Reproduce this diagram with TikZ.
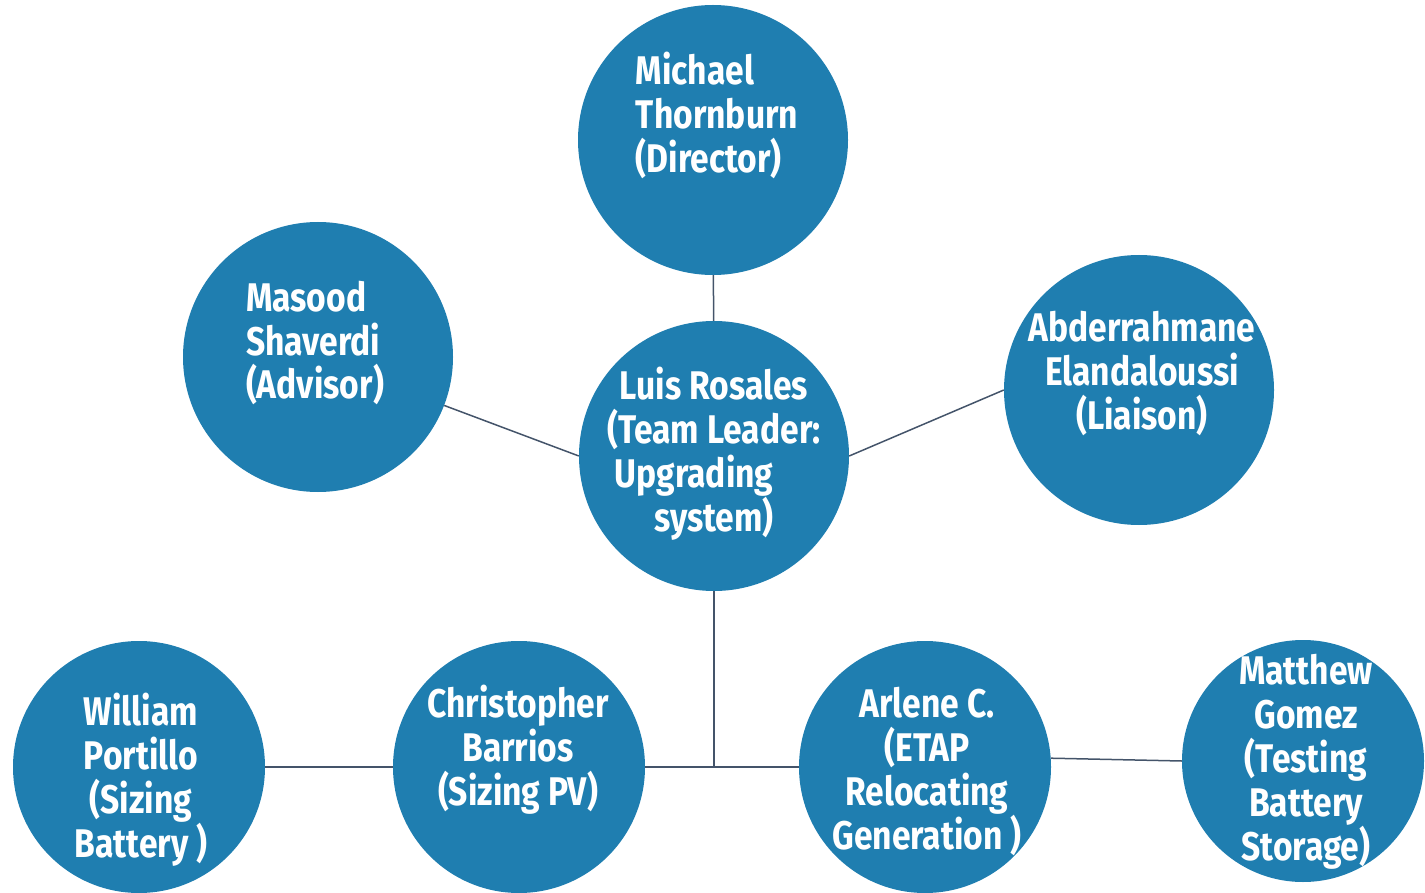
\documentclass[tikz,border=0pt]{standalone}
\usepackage{fontspec}
\setmainfont{Fira Sans}
\usetikzlibrary{positioning}
\definecolor{teamblue}{HTML}{1F7EB0}
\definecolor{linkgray}{HTML}{44546A}

\begin{document}
\begin{tikzpicture}
  [x=1pt, y=-1pt,
  % STYLES
  % The member style is used for the big circles of the upper part
  member/.style={circle, fill=teamblue, inner sep=0pt, minimum size=270pt},
  % The small member style is used for the bottom row
  small member/.style={member, minimum size=252pt},
  % The who style is used to write the names inside the circles
  who/.style={text=white, inner sep=0pt, align=center,
    font=\bfseries\fontsize{40}{44}\selectfont\addfontfeature{FakeStretch=0.84}},
  % The link style is used for the connectors
  link/.style={draw=linkgray, line width=1.5pt}]
  \useasboundingbox (0,0) rectangle (1425,893);
  \clip (0,0) rectangle (1425,893);
  % Draw members
  \node [member] (rosales) at (714,456) {};
  \node [member] (thornburn) at (713,140) {};
  \node [member] (shaverdi) at (318,357) {};
  \node [member] (elandaloussi) at (1139,390) {};
  \node [small member] (portillo) at (139,767) {};
  \node [small member] (barrios) at (519,767) {};
  \node [small member] (arlene) at (925,767) {};
  \node [small member, minimum size=242pt] (gomez) at (1303,761) {};
  %%%%%%%%%%%%%%%
  % Names
  \node [who, align=left] (thornburn-text) at ([xshift=4pt, yshift=25pt]thornburn.center) {Michael\\Thornburn\\(Director)};
  \node [who, align=left] (shaverdi-text) at ([xshift=-3pt, yshift=14pt]shaverdi.center) {Masood\\Shaverdi\\(Advisor)};
  \node [who] (rosales-text) at ([yshift=2pt]rosales.center) {Luis Rosales\\(Team Leader:\\Upgrading\hspace*{40pt}\mbox{}\\system)};
  \node [who] (elandaloussi-text) at ([xshift=3pt, yshift=17pt]elandaloussi.center) {Abderrahmane\\Elandaloussi\\(Liaison)};
  \node [who] (portillo-text) at ([xshift=2pt, yshift=-13pt]portillo.center) {William\\Portillo\\(Sizing\\Battery )};
  \node [who] (barrios-text) at ([xshift=-1pt, yshift=17pt]barrios.center) {Christopher\\Barrios\\(Sizing PV)};
  \node [who] (arlene-text) at ([xshift=2pt, yshift=-4pt]arlene.center) {Arlene C.\\(ETAP\\Relocating\\Generation )};
  \node [who] (gomez-text) at ([xshift=3pt, yshift=-1pt]gomez.center) {Matthew\\Gomez\\(Testing\\Battery\\Storage)};
  %%%%%%%%%%%%%%%
  % Draw the links between members
  \coordinate (junction) at (rosales.south |- barrios.east);
  \path[link]
  (thornburn) edge (rosales)
  (shaverdi.-21) edge (rosales.west)
  (rosales.east) edge (elandaloussi.west)
  (rosales.south) edge (junction)
  (barrios.east) edge (arlene.west)
  (portillo.east) edge (barrios.west)
  (arlene.4) edge (gomez.west);
\end{tikzpicture}
\end{document}
